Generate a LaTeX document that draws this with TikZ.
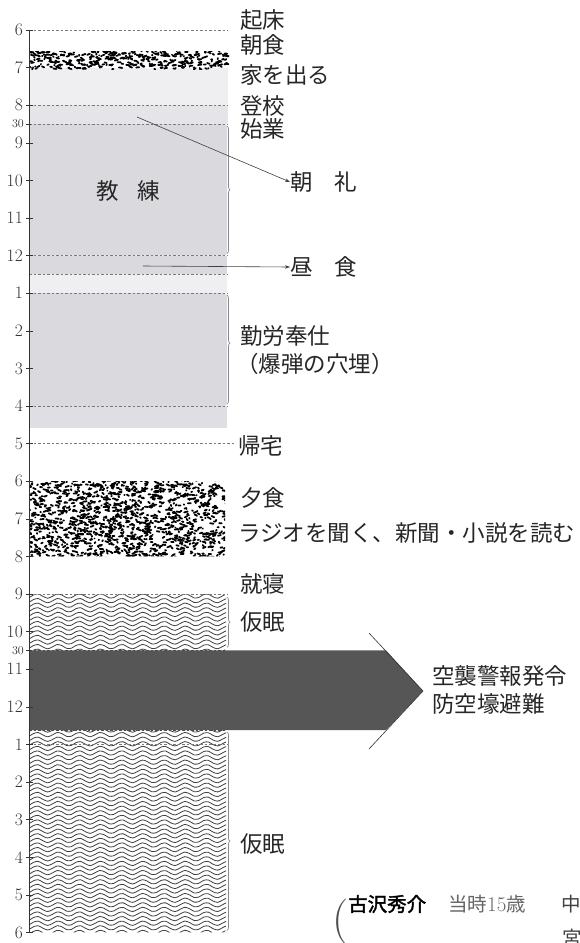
\documentclass[tikz,border=0pt]{standalone}
\usepackage{fontspec}
\usetikzlibrary{decorations.pathreplacing,arrows.meta}
\newfontfamily\jp{Noto Sans CJK JP}
\newfontfamily\jpb[FakeBold=2]{Noto Sans CJK JP}
\definecolor{lightband}{HTML}{EFEFF2}
\definecolor{midband}{HTML}{E4E4E9}
\definecolor{greybox}{HTML}{D9D9DE}
\definecolor{dashc}{HTML}{7A7A7A}
\definecolor{wavec}{HTML}{404040}
\definecolor{arrowc}{HTML}{565656}
\definecolor{bracec}{HTML}{8A8A8A}
\begin{document}
\begin{tikzpicture}[x=1pt,y=-1pt,
  declare function={hy(\h)=30+37.6*\h;},
  lbl/.style={font=\jp\fontsize{22.5}{26}\selectfont, anchor=west, inner sep=0pt, text=black!85},
  ticklbl/.style={font=\fontsize{17.5}{18}\selectfont, anchor=east, inner sep=0pt, text=black!80},
  smalltick/.style={font=\fontsize{12}{13}\selectfont, anchor=east, inner sep=0pt, text=black!80},
  dline/.style={draw=dashc, dash pattern=on 2.5pt off 2pt, line width=0.6pt},
  thinarrow/.style={draw=black!75, line width=0.6pt, -{Stealth[length=5pt,width=3.5pt]}},
  bracebump/.style={draw=bracec, line width=0.7pt, decorate, decoration={brace, amplitude=3pt, aspect=#1}},
  worm/.style={line width=1.8pt, line cap=round},
  waveline/.style={draw=wavec, line width=0.8pt}]
\useasboundingbox (0,0) rectangle (579,943);
\fill[white] (0,0) rectangle (579,943);

% ---------- morning bands ----------
\fill[lightband] (29,{hy(1)}) rectangle (228,{hy(2)});
\fill[midband] (29,{hy(2)}) rectangle (228,{hy(2.5)});
\fill[greybox, rounded corners=3pt] (29,{hy(2.5)}) rectangle (227,{hy(6)});
\fill[greybox] (29,{hy(6)}) rectangle (227,{hy(6.5)});
\fill[lightband] (29,{hy(6.5)}) rectangle (227,{hy(7)});
\fill[greybox, rounded corners=3pt] (29,{hy(7)}) rectangle (227,{hy(10)});
\fill[greybox!85] (29,{hy(10)}) rectangle (227,428);

% ---------- breakfast speckles ----------
\begin{scope}
\clip (30,51) rectangle (229,69);
\pgfmathsetseed{11}
\foreach \i in {1,...,380}{
  \pgfmathsetmacro\px{30+199*rnd}
  \pgfmathsetmacro\py{51+18*rnd}
  \pgfmathsetmacro\dx{3.5*rand}
  \pgfmathsetmacro\dy{1.2*rand}
  \draw[worm] (\px,\py) -- ++(\dx,\dy);
}
\end{scope}

% ---------- dinner speckles ----------
\begin{scope}
\clip[rounded corners=3pt] (30,{hy(12)}) rectangle (225,{hy(14)});
\pgfmathsetseed{7}
\foreach \i in {1,...,1350}{
  \pgfmathsetmacro\px{28+199*rnd}
  \pgfmathsetmacro\py{480+79*rnd}
  \pgfmathsetmacro\dx{3.5*rand}
  \pgfmathsetmacro\dy{1.5*rand}
  \draw[worm] (\px,\py) -- ++(\dx,\dy);
}
\end{scope}

% ---------- wave (sleep) ----------
\begin{scope}
\clip[rounded corners=3pt] (30,{hy(15)}) rectangle (226,{hy(16.5)});
\foreach \k in {0,...,12}{
  \draw[waveline] plot[domain=24:232, samples=45, smooth] (\x,{596+4.6*\k+2.2*sin(17*\x)});
}
\end{scope}
\begin{scope}
\clip[rounded corners=3pt] (30,728) rectangle (226,{hy(24)});
\foreach \k in {0,...,44}{
  \draw[waveline] plot[domain=24:232, samples=45, smooth] (\x,{730+4.6*\k+2.2*sin(17*\x)});
}
\end{scope}

% ---------- dashed hour lines ----------
\foreach \h in {0,2,2.5,6,6.5,7,10,15,19}{
  \draw[dline] (29,{hy(\h)}) -- (228,{hy(\h)});
}
\draw[dline] (29,{hy(11)}) -- (236,{hy(11)});

% ---------- braces on right edges ----------
\draw[bracebump=0.5] (227,{hy(2.5)+2}) -- (227,{hy(6)-2});
\draw[bracebump=0.44] (227,{hy(7)+2}) -- (227,{hy(10)-2});
\draw[bracebump=0.5] (227,{hy(15)+3}) -- (227,{hy(16.5)-3});
\draw[bracebump=0.55] (227,732) -- (227,{hy(24)-2});

% ---------- air-raid arrow ----------
\fill[arrowc] (29,{hy(16.5)}) -- (386,{hy(16.5)}) -- (423,691) -- (386,730) -- (29,730) -- cycle;
\draw[black!80, line width=0.6pt] (369,633) -- (423,691) -- (369,749);
\draw[black!70, dash pattern=on 2.5pt off 2pt, line width=0.7pt] (29,{hy(16.5)}) -- (226,{hy(16.5)});
\draw[black!70, dash pattern=on 2.5pt off 2pt, line width=0.7pt] (29,730) -- (226,730);

% ---------- axis ----------
\draw[black!80, line width=0.8pt] (29,{hy(0)}) -- (29,{hy(24)});
\foreach \h/\l in {0/6,1/7,2/8,3/9,4/10,5/11,6/12,7/1,8/2,9/3,10/4,11/5,12/6,13/7,14/8,15/9,16/10,17/11,18/12,19/1,20/2,21/3,22/4,23/5,24/6}{
  \draw[black!80, line width=0.6pt] (26,{hy(\h)}) -- (33,{hy(\h)});
  \node[ticklbl] (t\h) at (23,{hy(\h)}) {\l};
}
\draw[black!80, line width=0.6pt] (26,{hy(2.5)}) -- (31,{hy(2.5)});
\node[smalltick] (ta) at (24,{hy(2.5)}) {30};
\draw[black!80, line width=0.6pt] (26,{hy(16.5)}) -- (31,{hy(16.5)});
\node[smalltick] (tb) at (24,{hy(16.5)}) {30};

% ---------- labels ----------
\node[lbl] (kisho) at (240,20) {起床};
\node[lbl] (chosho) at (240,45) {朝食};
\node[lbl] (ie) at (240,75) {家を出る};
\node[lbl] (toko) at (240,106) {登校};
\node[lbl] (shigyo) at (240,129) {始業};
\node[lbl] (chorei) at (290,182) {朝\hspace{22pt}礼};
\node[lbl] (chushoku) at (290,267) {昼\hspace{22pt}食};
\node[lbl, anchor=center] (kyoren) at (128,191) {教\hspace{19pt}練};
\node[lbl] (kinro) at (240,336) {勤労奉仕};
\node[lbl] (bakudan) at (236,364) {（爆弾の穴埋）};
\node[lbl] (kitaku) at (238,446) {帰宅};
\node[lbl] (yushoku) at (240,498) {夕食};
\node[lbl] (radio) at (238,533) {ラジオを聞く、新聞・小説を読む};
\node[lbl] (shushin) at (240,584) {就寝};
\node[lbl] (kamin1) at (240,622) {仮眠};
\node[lbl] (kushu) at (432,676) {空襲警報発令};
\node[lbl] (bokugo) at (432,704) {防空壕避難};
\node[lbl] (kamin2) at (240,844) {仮眠};

% ---------- arrows to labels ----------
\coordinate (cs) at (137,117);
\coordinate (ls) at (143,266);
\draw[thinarrow] (cs) -- (chorei.west);
\draw[thinarrow] (ls) -- (chushoku.west);

% ---------- caption ----------
\node[anchor=base west, inner sep=0pt, font=\fontsize{46}{46}\selectfont, text=black!70] (paren) at (332,933) {(};
\node[anchor=west, inner sep=0pt, font=\jpb\fontsize{19.5}{22}\selectfont] (name) at (348,904) {古沢秀介};
\node[anchor=west, inner sep=0pt, font=\jp\fontsize{19.5}{22}\selectfont, text=black!60] (age) at (448,904) {当時{\fontspec{Latin Modern Roman}\fontsize{21}{22}\selectfont 15}歳};
\node[anchor=west, inner sep=0pt, font=\jp\fontsize{19.5}{22}\selectfont, text=black!75] (naka) at (561,904) {中};
\node[anchor=west, inner sep=0pt, font=\jp\fontsize{19.5}{22}\selectfont, text=black!75] (miya) at (562,938) {宮};
\end{tikzpicture}
\end{document}
